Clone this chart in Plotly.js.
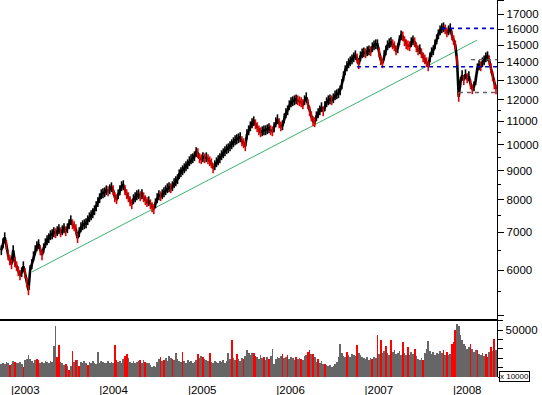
<!DOCTYPE html>
<html><head><meta charset="utf-8">
<script src="https://cdn.plot.ly/plotly-3.0.1.min.js"></script>
<style>html,body{margin:0;padding:0;background:#fff}#chart{width:542px;height:395px}</style>
</head><body><div id="chart"></div>
<script>
// weekly series, first week ending 2002-11-22
const firstWeek = [2002, 10, 22];
const closes = [
 6511, 6699, 6865, 6645, 6380, 6251, 6150, 6511, 6200, 6100,
 5978, 5881, 5954, 6100, 5929, 5716, 5533, 6002, 6150, 6354,
 6511, 6618, 6672, 6511, 6380, 6564, 6699, 6781, 6837, 6921,
 6949, 7006, 6978, 7035, 7092, 7006, 7063, 7121, 7035, 7121,
 7238, 7356, 7238, 7179, 7092, 6837, 7006, 7150, 7208, 7238,
 7267, 7356, 7447, 7507, 7569, 7662, 7788, 7916, 8045, 8177,
 8211, 8244, 8311, 8278, 8345, 8414, 8311, 8078, 8013, 8177,
 8311, 8448, 8482, 8311, 8177, 8078, 7948, 7851, 8013, 8078,
 8144, 8177, 8111, 8177, 8078, 7980, 7916, 7948, 7851, 7756,
 7693, 7883, 8045, 8144, 8111, 8177, 8244, 8311, 8379, 8414,
 8379, 8448, 8552, 8621, 8691, 8870, 8943, 9016, 9090, 9164,
 9239, 9352, 9428, 9467, 9544, 9701, 9662, 9467, 9428, 9506,
 9467, 9506, 9428, 9352, 9277, 9090, 9201, 9314, 9390, 9467,
 9583, 9662, 9741, 9820, 9860, 9941, 10022, 10104, 10186, 10228,
 10270, 10312, 10145, 10063, 9941, 10438, 10608, 10782, 10915, 11004,
 10871, 10739, 10608, 10523, 10565, 10608, 10608, 10652, 10695, 10608,
 10565, 10739, 10960, 11094, 10915, 10782, 10826, 11140, 11368, 11507,
 11744, 11889, 11937, 11985, 12034, 11985, 11937, 11889, 11792, 11985,
 12133, 11792, 11461, 11231, 11004, 10960, 11231, 11368, 11507, 11649,
 11461, 11697, 11889, 11985, 12034, 11985, 12083, 12231, 12281, 12332,
 12483, 12792, 13216, 13541, 13764, 13933, 14046, 14161, 14277, 14394,
 14219, 13876, 14336, 14511, 14570, 14511, 14630, 14689, 14630, 14870,
 14990, 15052, 15052, 14570, 14103, 13933, 14394, 14689, 14990, 15114,
 15176, 15052, 14930, 14689, 14809, 15299, 15612, 15549, 15237, 15052,
 14990, 14930, 15176, 15299, 15176, 14870, 14689, 14749, 14511, 14277,
 14161, 13990, 13764, 14277, 14570, 14689, 15052, 15361, 15676, 15933,
 16064, 16129, 15998, 15804, 15933, 16064, 15612, 15299, 14990, 14103,
 12150, 12897, 13269, 13002, 13323, 13109, 13216, 12792, 12534, 12688,
 13002, 13653, 13820, 13764, 13990, 14103, 14277, 14336, 14103, 13653,
 13216, 12792, 12534
];
const volumes = [
 14300, 15500, 13500, 16000, 15000, 12500, 14000, 17000, 16000, 14500,
 15500, 16500, 14000, 10700, 18000, 19600, 24000, 19000, 17000, 15500,
 18500, 19000, 17800, 15000, 16000, 14800, 17000, 16000, 15000, 17500,
 16500, 33000, 54200, 21500, 33900, 16000, 14500, 13000, 14300, 11500,
 7100, 12000, 27800, 16500, 17800, 18500, 11500, 16000, 14500, 17000,
 15500, 12500, 16000, 14500, 17500, 15500, 14000, 26700, 15000, 17000,
 16000, 14500, 15500, 17500, 15000, 16500, 15500, 33900, 18000, 16000,
 17500, 15000, 19000, 22000, 25000, 20000, 16000, 14500, 17000, 15500,
 16500, 17000, 17800, 15000, 18000, 16000, 14500, 15500, 12500, 11000,
 12000, 10700, 16000, 19000, 21400, 17000, 18500, 20000, 17000, 22000,
 20500, 19600, 18000, 25600, 19000, 17000, 16000, 26700, 17500, 15500,
 18000, 16000, 17000, 15000, 16500, 18500, 24960, 20000, 22000, 21400,
 19000, 18000, 17000, 25500, 16500, 15000, 17000, 16000, 14500, 17500,
 16000, 18000, 15500, 17000, 25600, 19000, 39200, 20000, 18000, 25000,
 19500, 17000, 20000, 19000, 22000, 28500, 26000, 24000, 25500, 26000,
 22000, 21000, 19000, 23000, 20000, 21400, 18500, 21000, 19600, 22000,
 30300, 14000, 19000, 21000, 20500, 22000, 24960, 20000, 21500, 23200,
 19500, 21000, 20000, 18500, 21000, 19000, 20000, 19600, 18000, 22000,
 24000, 26700, 28500, 25000, 24960, 21000, 16000, 19000, 15000, 17000,
 14000, 14300, 12500, 11500, 12500, 11000, 12000, 13500, 16000, 21400,
 35000, 26000, 22000, 21000, 26700, 23000, 21000, 25000, 23500, 22000,
 33900, 26000, 24000, 21000, 20000, 19000, 21000, 18500, 20000, 19600,
 21500, 20000, 44600, 25000, 39200, 26000, 28000, 33000, 26000, 24000,
 40000, 27000, 29000, 25000, 26000, 28000, 24000, 37400, 26000, 24000,
 32000, 23000, 27000, 25000, 30300, 22000, 19000, 18500, 20000, 17800,
 26000, 30000, 39000, 28000, 25000, 27000, 24000, 26000, 25000, 28000,
 26000, 28500, 24000, 26700, 23000, 25000, 35700, 37400, 50600, 56300,
 55000, 44600, 40000, 35000, 33000, 30000, 32000, 35700, 30000, 27000,
 29000, 28500, 25000, 23000, 26000, 22000, 25000, 21400, 27000, 32000,
 28000, 41000, 28500
];
// weeks (indices) whose volume bar is drawn red
const redVolumeWeeks = [5,8,13,21,22,33,34,38,40,42,44,46,51,67,68,73,74,82,85,94,96,101,107,116,119,123,136,139,143,149,150,155,158,166,169,174,177,181,182,184,187,191,204,210,219,222,224,227,230,237,240,244,249,261,263,266,267,268,277,281,286,287,289,291];

const yearTicks = ['2003-01-01','2004-01-01','2005-01-01','2006-01-01','2007-01-01','2008-01-01'];
const yearLabels = ['|2003','|2004','|2005','|2006','|2007','|2008'];
const priceTicks = [5000,6000,7000,8000,9000,10000,11000,12000,13000,14000,15000,16000,17000,18000];
const priceTickLabels = ['','6000','7000','8000','9000','10000','11000','12000','13000','14000','15000','16000','17000',''];
const priceMinorTicks = [5500,6500,7500,8500,9500,10500,11500];
const volumeTicks = [0,10000,20000,30000,40000,50000,60000];
const volumeTickLabels = ['','','','','','50000',''];

const trendDates = ['2003-03-29','2008-04-10'];
const trendValues = [5962, 15310];
const blueLevels = [16060, 13740];
const blueFrom = ['2007-11-17','2006-12-01'];
const grayLevels = [14140, 12370];
const grayFrom = ['2008-03-16','2008-01-26'];

const xStart = '2002-11-16 12:00';
const xEnd = '2008-07-01 04:00';

// build weekly dates
const dates = closes.map((_, i) => {
  const d = new Date(Date.UTC(firstWeek[0], firstWeek[1], firstWeek[2]) + i * 7 * 86400000);
  return d.toISOString().slice(0, 10);
});

// red ticks for falling weeks, black for rising weeks
const tickColors = closes.map((c, i) => (i > 0 && c < closes[i - 1]) ? '#e00000' : '#000000');
const redSet = new Set(redVolumeWeeks);
const volColors = volumes.map((_, i) => redSet.has(i) ? '#ff0000' : '#666666');

const font = 'Liberation Sans, Arial, sans-serif';
const traces = [
  {type:'scatter', mode:'lines', x: trendDates, y: trendValues, xaxis:'x', yaxis:'y',
   line:{color:'#3cb371', width:1}, hoverinfo:'skip'},
  {type:'scatter', mode:'lines+markers', x: dates, y: closes, xaxis:'x', yaxis:'y',
   line:{color:'#000', width:2.6},
   marker:{symbol:'line-ns', size:7, color:tickColors, line:{color:tickColors, width:1.6}}},
];
blueLevels.forEach((v, i) => traces.push({type:'scatter', mode:'lines', x:[blueFrom[i], xEnd], y:[v, v],
  xaxis:'x', yaxis:'y', line:{color:'#0000cc', width:1.6, dash:'4px,4px'}}));
grayLevels.forEach((v, i) => traces.push({type:'scatter', mode:'lines', x:[grayFrom[i], xEnd], y:[v, v],
  xaxis:'x', yaxis:'y', line:{color:'#606060', width:1.3, dash:'4px,4px'}}));
traces.push({type:'bar', x: dates, y: volumes, xaxis:'x2', yaxis:'y2',
  marker:{color: volColors, line:{width:0}}});

const volFrac = 58 / 377;
const layout = {
  width: 542, height: 395,
  margin: {l:0, r:45, t:0, b:18, pad:0},
  paper_bgcolor:'#fff', plot_bgcolor:'#fff',
  showlegend:false, bargap:0,
  font:{family:font, color:'#000'},
  xaxis: {type:'date', domain:[0,1], anchor:'y', range:[xStart, xEnd], showline:true, linecolor:'#000',
    linewidth:1.5, showticklabels:false, ticks:'', showgrid:false, zeroline:false, fixedrange:true},
  yaxis: {type:'log', domain:[volFrac,1], anchor:'x', side:'right',
    range:[Math.log10(4922), Math.log10(18024)], showline:true, linecolor:'#000', linewidth:1.3,
    ticks:'outside', ticklen:6, tickwidth:1, tickcolor:'#000', tickmode:'array',
    tickvals: priceTicks, ticktext: priceTickLabels,
    tickfont:{family:font, size:11.5, color:'#000'}, showgrid:false, zeroline:false,
    minor:{tickmode:'array', tickvals: priceMinorTicks, ticks:'outside', ticklen:3, tickcolor:'#000', showgrid:false}},
  xaxis2: {type:'date', domain:[0,1], anchor:'y2', matches:'x', range:[xStart, xEnd], showline:false,
    ticks:'', tickmode:'array', tickvals: yearTicks, ticktext: yearLabels, ticklabelposition:'outside right',
    ticklabelstandoff:4,
    tickfont:{family:font, size:11.5, color:'#000'}, showgrid:false, zeroline:false},
  yaxis2: {domain:[0, volFrac], anchor:'x2', side:'right', range:[0, 62000], showline:true,
    linecolor:'#000', linewidth:1.3, ticks:'outside', ticklen:5, tickcolor:'#000', tickmode:'array',
    tickvals: volumeTicks, ticktext: volumeTickLabels,
    tickfont:{family:font, size:11.5, color:'#000'}, showgrid:false, zeroline:false},
  annotations: [{xref:'paper', yref:'paper', x:1, y:0, xanchor:'left', yanchor:'middle', xshift:2, yshift:1,
    text:'x 10000', showarrow:false, font:{family:font, size:8, color:'#000'},
    bgcolor:'#fff', bordercolor:'#000', borderwidth:1, borderpad:0}]
};
Plotly.newPlot('chart', traces, layout, {displayModeBar:false, staticPlot:true});
</script>
</body></html>
